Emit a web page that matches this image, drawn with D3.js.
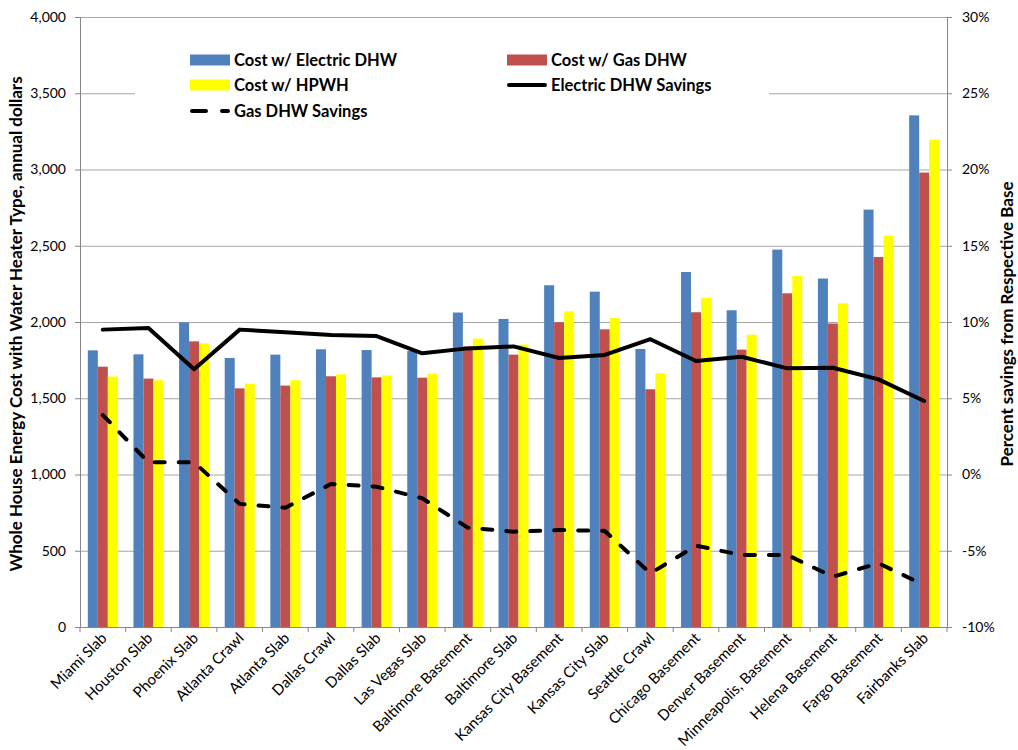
<!DOCTYPE html>
<html>
<head>
<meta charset="utf-8">
<script src="https://cdn.jsdelivr.net/npm/d3@7"></script>
<style>
  body { margin: 0; background: #fff; }
  svg { display: block; font-family: Lato, "Open Sans", sans-serif; }
</style>
</head>
<body>
<svg id="chart" width="1018" height="750"></svg>
<script>
const categories = ["Miami Slab", "Houston Slab", "Phoenix Slab", "Atlanta Crawl", "Atlanta Slab",
  "Dallas Crawl", "Dallas Slab", "Las Vegas Slab", "Baltimore Basement", "Baltimore Slab",
  "Kansas City Basement", "Kansas City Slab", "Seattle Crawl", "Chicago Basement", "Denver Basement",
  "Minneapolis, Basement", "Helena Basement", "Fargo Basement", "Fairbanks Slab"];

const costElectric = [1814, 1788, 1998, 1764, 1786, 1821, 1816, 1810, 2062, 2020,
  2241, 2199, 1823, 2328, 2077, 2475, 2285, 2737, 3355];
const costGas = [1707, 1629, 1873, 1565, 1583, 1644, 1637, 1635, 1840, 1786,
  1998, 1952, 1559, 2064, 1819, 2188, 1990, 2426, 2980];
const costHPWH = [1642, 1618, 1860, 1596, 1618, 1657, 1650, 1661, 1891, 1852,
  2070, 2026, 1664, 2157, 1917, 2302, 2123, 2566, 3196];

// percent savings of HPWH relative to each base
const electricSavings = [9.5, 9.6, 6.9, 9.5, 9.33, 9.15, 9.08, 7.95, 8.27, 8.4,
  7.64, 7.84, 8.87, 7.44, 7.72, 6.96, 7.0, 6.24, 4.82];
const gasSavings = [3.9, 0.8, 0.8, -1.93, -2.18, -0.62, -0.8, -1.56, -3.49, -3.75,
  -3.64, -3.7, -6.48, -4.67, -5.28, -5.28, -6.7, -5.82, -7.25];

const leftTicks = [0, 500, 1000, 1500, 2000, 2500, 3000, 3500, 4000];
const rightTicks = [-10, -5, 0, 5, 10, 15, 20, 25, 30];

const seriesNames = ["Cost w/ Electric DHW", "Cost w/ Gas DHW", "Cost w/ HPWH"];
const seriesColors = ["#4F81BD", "#C0504D", "#FFFF00"];

const svg = d3.select("#chart");
const m = { left: 80, right: 947, top: 17, bottom: 627 };

const x = d3.scaleBand().domain(categories).range([m.left, m.right]).paddingInner(0).paddingOuter(0);
const xSub = d3.scaleBand().domain([0, 1, 2]).range([0, 30]);
const yL = d3.scaleLinear().domain([0, 4000]).range([m.bottom, m.top]);
const yR = d3.scaleLinear().domain([-10, 30]).range([m.bottom, m.top]);

// gridlines
svg.append("g").selectAll("line").data(leftTicks.slice(1)).join("line")
  .attr("x1", m.left).attr("x2", m.right)
  .attr("y1", d => yL(d) + 0.5).attr("y2", d => yL(d) + 0.5)
  .attr("stroke", "#a6a6a6").attr("stroke-width", 1);

// bars
const groups = svg.append("g").selectAll("g").data(categories).join("g")
  .attr("transform", d => `translate(${x(d) + (x.bandwidth() - 30) / 2},0)`);
const seriesVals = [costElectric, costGas, costHPWH];
groups.each(function (d, i) {
  d3.select(this).selectAll("rect").data([0, 1, 2]).join("rect")
    .attr("x", s => xSub(s))
    .attr("width", xSub.bandwidth())
    .attr("y", s => yL(seriesVals[s][i]))
    .attr("height", s => yL(0) - yL(seriesVals[s][i]))
    .attr("fill", s => seriesColors[s]);
});

// lines
const cx = d => x(d) + x.bandwidth() / 2;
const lineE = d3.line().x((d, i) => cx(categories[i])).y(d => yR(d));
svg.append("path").datum(electricSavings).attr("d", lineE)
  .attr("fill", "none").attr("stroke", "#000").attr("stroke-width", 4)
  .attr("stroke-linejoin", "round").attr("stroke-linecap", "round");
svg.append("path").datum(gasSavings).attr("d", lineE)
  .attr("fill", "none").attr("stroke", "#000").attr("stroke-width", 4)
  .attr("stroke-dasharray", "10,14").attr("stroke-linecap", "round");

// axes
const axisColor = "#868686";
const gL = svg.append("g").attr("transform", `translate(${m.left},0)`)
  .call(d3.axisLeft(yL).tickValues(leftTicks).tickSize(5).tickPadding(9).tickFormat(d3.format(",")));
const gR = svg.append("g").attr("transform", `translate(${m.right},0)`)
  .call(d3.axisRight(yR).tickValues(rightTicks).tickSize(5).tickPadding(10).tickFormat(d => d + "%"));
[gL, gR].forEach(g => {
  g.select(".domain").attr("stroke", axisColor);
  g.selectAll(".tick line").attr("stroke", axisColor);
  g.selectAll("text").attr("font-size", 14).attr("fill", "#000").attr("font-family", "Lato, sans-serif");
});

const gX = svg.append("g").attr("transform", `translate(0,${m.bottom})`)
  .call(d3.axisBottom(x).tickSize(0).tickFormat(""));
gX.select(".domain").attr("stroke", axisColor);
// category boundary ticks
svg.append("g").selectAll("line").data(d3.range(categories.length + 1)).join("line")
  .attr("x1", i => m.left + i * x.bandwidth()).attr("x2", i => m.left + i * x.bandwidth())
  .attr("y1", m.bottom).attr("y2", m.bottom + 5)
  .attr("stroke", axisColor);
svg.append("g").selectAll("text").data(categories).join("text")
  .attr("transform", d => `translate(${cx(d) + 5},${m.bottom + 12}) rotate(-45)`)
  .attr("text-anchor", "end").attr("font-size", 15).text(d => d);

// axis titles
svg.append("text").attr("transform", `translate(22,${(m.top + m.bottom) / 2 + 2}) rotate(-90)`)
  .attr("text-anchor", "middle").attr("font-weight", "bold").attr("font-size", 17)
  .text("Whole House Energy Cost with Water Heater Type, annual dollars");
svg.append("text").attr("transform", `translate(1013,${(m.top + m.bottom) / 2 + 2}) rotate(-90)`)
  .attr("text-anchor", "middle").attr("font-weight", "bold").attr("font-size", 17)
  .text("Percent savings from Respective Base");

// legend
const legend = svg.append("g");
legend.append("rect").attr("x", 135).attr("y", 40).attr("width", 634).attr("height", 85).attr("fill", "#fff");
const legItems = [
  { name: seriesNames[0], type: "bar", color: seriesColors[0], lx: 190, ly: 60 },
  { name: seriesNames[1], type: "bar", color: seriesColors[1], lx: 507, ly: 60 },
  { name: seriesNames[2], type: "bar", color: seriesColors[2], lx: 190, ly: 85 },
  { name: "Electric DHW Savings", type: "line", lx: 507, ly: 85 },
  { name: "Gas DHW Savings", type: "dash", lx: 190, ly: 111 }
];
legItems.forEach(it => {
  if (it.type === "bar") {
    legend.append("rect").attr("x", it.lx).attr("y", it.ly - 5.5).attr("width", 40).attr("height", 11).attr("fill", it.color);
  } else {
    legend.append("line").attr("x1", it.lx + 2).attr("x2", it.lx + 38).attr("y1", it.ly).attr("y2", it.ly)
      .attr("stroke", "#000").attr("stroke-width", 4).attr("stroke-linecap", "round")
      .attr("stroke-dasharray", it.type === "dash" ? "14,16" : null);
  }
  legend.append("text").attr("x", it.lx + 44).attr("y", it.ly).attr("dy", "0.35em")
    .attr("font-weight", "bold").attr("font-size", 16.5).text(it.name);
});
</script>
</body>
</html>
